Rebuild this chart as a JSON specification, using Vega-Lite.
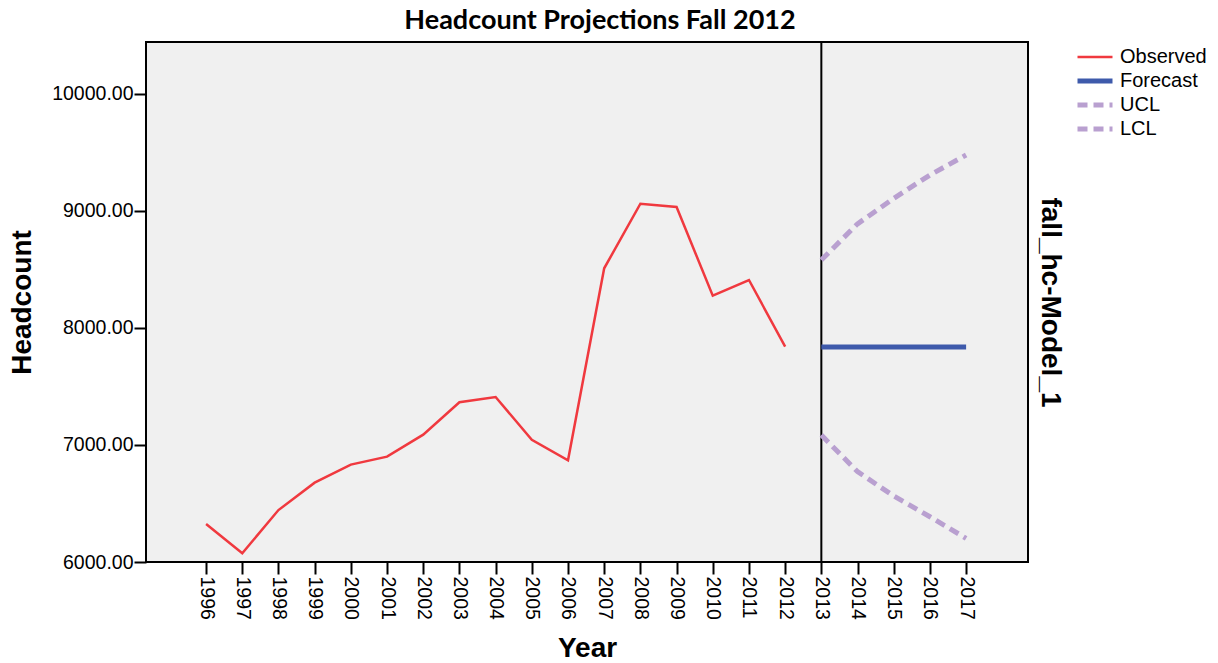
{
  "$schema": "https://vega.github.io/schema/vega-lite/v6.json",
  "autosize": "none",
  "width": 882,
  "height": 520,
  "padding": {"left": 146, "top": 42, "right": 190, "bottom": 101},
  "background": "white",
  "title": {
    "text": "Headcount Projections Fall 2012",
    "font": "Lato",
    "fontSize": 27,
    "fontWeight": "bold",
    "color": "black",
    "anchor": "middle",
    "dx": 13,
    "offset": 6
  },
  "config": {
    "view": {"fill": "#f0f0f0", "stroke": "black", "strokeWidth": 2},
    "axis": {
      "domain": false,
      "grid": false,
      "tickColor": "black",
      "tickWidth": 2,
      "tickSize": 12,
      "labelFont": "Liberation Sans",
      "labelFontSize": 19.5,
      "labelColor": "black",
      "titleFont": "Liberation Sans",
      "titleFontSize": 28,
      "titleFontWeight": "bold",
      "titleColor": "black"
    }
  },
  "datasets": {
    "series": [
      {"year": 1996, "value": 6325, "series": "Observed"},
      {"year": 1997, "value": 6074, "series": "Observed"},
      {"year": 1998, "value": 6444, "series": "Observed"},
      {"year": 1999, "value": 6678, "series": "Observed"},
      {"year": 2000, "value": 6832, "series": "Observed"},
      {"year": 2001, "value": 6900, "series": "Observed"},
      {"year": 2002, "value": 7088, "series": "Observed"},
      {"year": 2003, "value": 7365, "series": "Observed"},
      {"year": 2004, "value": 7410, "series": "Observed"},
      {"year": 2005, "value": 7045, "series": "Observed"},
      {"year": 2006, "value": 6869, "series": "Observed"},
      {"year": 2007, "value": 8510, "series": "Observed"},
      {"year": 2008, "value": 9062, "series": "Observed"},
      {"year": 2009, "value": 9034, "series": "Observed"},
      {"year": 2010, "value": 8276, "series": "Observed"},
      {"year": 2011, "value": 8410, "series": "Observed"},
      {"year": 2012, "value": 7840, "series": "Observed"},
      {"year": 2013, "value": 7837, "series": "Forecast"},
      {"year": 2014, "value": 7837, "series": "Forecast"},
      {"year": 2015, "value": 7837, "series": "Forecast"},
      {"year": 2016, "value": 7837, "series": "Forecast"},
      {"year": 2017, "value": 7837, "series": "Forecast"},
      {"year": 2013, "value": 8581, "series": "UCL"},
      {"year": 2014, "value": 8890, "series": "UCL"},
      {"year": 2015, "value": 9108, "series": "UCL"},
      {"year": 2016, "value": 9307, "series": "UCL"},
      {"year": 2017, "value": 9478, "series": "UCL"},
      {"year": 2013, "value": 7085, "series": "LCL"},
      {"year": 2014, "value": 6772, "series": "LCL"},
      {"year": 2015, "value": 6564, "series": "LCL"},
      {"year": 2016, "value": 6387, "series": "LCL"},
      {"year": 2017, "value": 6202, "series": "LCL"}
    ],
    "divider": [{"year": 2013}]
  },
  "layer": [
    {
      "layer": [
        {
          "data": {"name": "divider"},
          "mark": {"type": "rule", "color": "black", "strokeWidth": 2},
          "encoding": {
            "x": {
              "field": "year",
              "type": "quantitative",
              "scale": {"domain": [1994.34, 2018.71], "nice": false, "zero": false},
              "axis": {
                "title": "Year",
                "values": [1996, 1997, 1998, 1999, 2000, 2001, 2002, 2003, 2004, 2005, 2006, 2007, 2008, 2009, 2010, 2011, 2012, 2013, 2014, 2015, 2016, 2017],
                "format": "d",
                "labelAngle": 90,
                "labelAlign": "left",
                "labelBaseline": "middle",
                "labelPadding": 2,
                "titlePadding": 15
              }
            }
          }
        },
        {
          "data": {"name": "series"},
          "transform": [{"filter": "datum.series === 'Observed'"}],
          "mark": {"type": "line", "strokeWidth": 2.5},
          "encoding": {
            "x": {"field": "year", "type": "quantitative"},
            "y": {
              "field": "value",
              "type": "quantitative",
              "scale": {"domain": [6000, 10444], "nice": false, "zero": false},
              "axis": {
                "title": "Headcount",
                "values": [6000, 7000, 8000, 9000, 10000],
                "format": ".2f",
                "labelPadding": 1,
                "titlePadding": 15
              }
            },
            "color": {
              "field": "series",
              "type": "nominal",
              "scale": {"domain": ["Observed", "Forecast", "UCL", "LCL"], "range": ["#f0393f", "#3e5aab", "#b9a0d0", "#b9a0d0"]},
              "legend": {
                "title": null,
                "orient": "none",
                "legendX": 939,
                "legendY": 5,
                "symbolType": "M-1.75,0H1.75",
                "symbolSize": 400,
                "symbolStrokeWidth": 4.5,
                "labelFont": "Liberation Sans",
                "labelFontSize": 20,
                "labelColor": "black",
                "rowPadding": 4,
                "labelOffset": 15,
                "encode": {
                  "symbols": {
                    "update": {
                      "strokeWidth": {"signal": "datum.value === 'Observed' ? 2.5 : 5"},
                      "strokeDash": {"signal": "(datum.value === 'UCL' || datum.value === 'LCL') ? [10, 6] : [1, 0]"}
                    }
                  }
                }
              }
            }
          }
        },
        {
          "data": {"name": "series"},
          "transform": [{"filter": "datum.series === 'Forecast'"}],
          "mark": {"type": "line", "strokeWidth": 5},
          "encoding": {
            "x": {"field": "year", "type": "quantitative"},
            "y": {"field": "value", "type": "quantitative"},
            "color": {"field": "series", "type": "nominal"}
          }
        },
        {
          "data": {"name": "series"},
          "transform": [{"filter": "datum.series === 'UCL' || datum.series === 'LCL'"}],
          "mark": {"type": "line", "strokeWidth": 5, "strokeDash": [10, 6]},
          "encoding": {
            "x": {"field": "year", "type": "quantitative"},
            "y": {"field": "value", "type": "quantitative"},
            "detail": {"field": "series"},
            "color": {"field": "series", "type": "nominal"}
          }
        }
      ]
    },
    {
      "data": {"name": "series"},
      "mark": {"type": "point", "opacity": 0},
      "encoding": {
        "x": {"field": "year", "type": "quantitative"},
        "y": {
          "field": "value",
          "type": "quantitative",
          "scale": {"domain": [6000, 10444], "nice": false, "zero": false},
          "axis": {
            "orient": "right",
            "title": "fall_hc-Model_1",
            "labels": false,
            "ticks": false,
            "titleFontSize": 28,
            "titlePadding": 7
          }
        }
      }
    }
  ],
  "resolve": {"scale": {"y": "independent"}}
}
